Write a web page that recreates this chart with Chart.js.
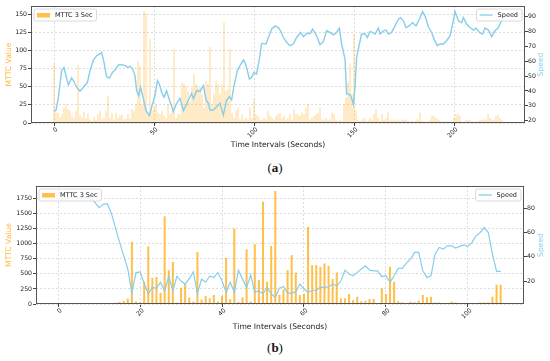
<!DOCTYPE html>
<html lang="en">
<head>
<meta charset="UTF-8">
<script src="https://cdn.jsdelivr.net/npm/chart.js@4.4.0/dist/chart.umd.min.js"></script>
<style>
    body{
        margin: 0;
        padding: 0;
        background: #fff;
        width: 550px;
        height: 361px;
        position: relative;
        overflow: hidden;
    }
    canvas{
        position: absolute;
        left: 0;
    }
    #chartA{ top: 0; }
    #chartB{ top: 180px; }
    .cap{
        position: absolute;
        left: 0;
        width: 550px;
        text-align: center;
        font-family: 'Liberation Serif', serif;
        font-size: 13px;
        line-height: 14px;
        color: #111;
    }
</style>
<title>MTTC and Speed</title>
</head>
<body>
<canvas id="chartA" width="550" height="154"></canvas>
<div class="cap" style="top:161px">(<b>a</b>)</div>
<canvas id="chartB" width="550" height="153"></canvas>
<div class="cap" style="top:341px">(<b>b</b>)</div>
<script>
// ---- data (a) ----
const mttcA = [
    82,15,14,8,12,21,26,19,17,10, 7,17,80,10,7,16,7,13,5,3,
    8,4,12,17,5,7,17,37,7,14, 5,14,7,10,12,5,6,12,7,19,
    17,26,85,78,26,155,152,12,116,17, 21,26,14,12,17,10,7,26,12,17,
    102,7,12,12,56,54,51,44,30,49, 68,54,51,49,40,21,58,54,105,26,
    40,58,54,40,54,139,44,47,102,14, 7,17,21,5,12,5,7,5,21,7,
    33,12,10,5,4,7,5,17,10,7, 5,10,12,14,7,10,5,7,12,5,
    19,12,12,10,14,12,21,26,5,7, 10,12,14,21,5,5,7,3,5,14,
    12,5,3,4,3,26,35,57,82,40, 123,17,5,3,5,7,3,3,7,5,
    12,19,7,3,12,5,7,16,3,5, 3,5,5,3,4,5,5,3,2,3,
    2,5,5,14,3,2,2,2,5,10, 10,7,5,3,2,2,2,2,2,2,
    7,12,12,10,2,2,4,5,4,2, 2,2,2,4,4,5,5,12,7,4,
    5,10,11,7,4
];
const secondsA = Array.from({length: mttcA.length}, (_, i) => i);
const speedTimeA = [
    0,1,2.2,3,3.8,5,6,7.2,8.8,9.7,11.3,13,14.7,16.7,18,19.7,21.3,23,23.8,25,
    26.3,27.7,29.3,31,32.2,33.8,35.5,36.7,38,39.3,40.5,41.3,42.3,43.3,44.7,46,47.7,48.8,50.5,51.7,
    52.7,53.8,55,56.3,57.7,59.7,61.3,63,64.7,66.3,68.8,69.7,71.3,73,74.7,76,77.2,78,79.7,81.3,
    83,84.7,86.3,87.7,88.8,90,91.7,93,94.7,95.5,96.7,97.7,98.8,100,101.3,102.7,103.8,106,107.2,108.8,
    110.5,112.2,113.3,114.7,116.3,118,119.7,121.3,123.3,124.7,126.3,128,129.3,131.3,133,134.7,136.3,138,139.7,141.3,
    142.7,143.8,145.5,146.3,147.2,148.3,149.7,150.5,151.3,152.7,153.8,155.5,156.7,158,159.3,160.5,162.2,163,164.7,166,
    167.2,168.8,170.5,172.2,173.3,174.7,176,177.7,179.3,181,182.7,184.3,185.5,187.2,188.8,190,191.7,193,194.7,196.3,
    198,199.3,200.5,202.2,203.8,204.7,206.3,208,209.7,211,212.7,214.3,215.5,217.2,218.8,220.5,222.2,223.8
];
const speedA = [
    26.3,27,35.7,44.7,53.6,55.9,50.3,44,48.7,47,42.5,39.8,42.5,45.8,53.6,60.8,63.7,64.9,66,59.3,
    49.6,48.7,52.6,54.8,57.5,57.7,57,55.9,56.6,54.8,50.3,40.2,36.9,42.5,34.6,26.7,23.4,29,36.9,47,
    44.7,39.1,35.7,40.2,33.9,26.1,31.7,35,26.7,31.2,38.4,34.6,40.2,39.7,43.6,33.9,31.7,27.2,27.2,29.4,
    31.7,23.8,33.9,36.1,33.9,43.6,53.6,57,60.8,59.3,53.6,48,49.1,52.4,51.3,61.5,72,71.6,76,81.6,
    83.8,82.7,80.5,76,72.7,70.5,71.6,76,79.4,76.5,78.7,78.7,81.6,77.1,71.1,73.3,80.5,79.4,77.8,79.4,
    82.3,71.6,61.5,38,38,36.9,31.3,42.5,62.6,71.6,78.3,78.3,76,80,79.4,78.3,82.3,78.3,80.5,81,
    78.3,79.4,83.8,88.3,89.4,87.2,82.7,83.8,86,83.8,88.3,93.5,90.6,83.2,79.4,74.9,70.5,71.6,71.6,73.8,
    77.1,85,93.5,87.2,86,89.4,85,82.7,81,82.3,79.4,78.3,82.3,81,76.5,80.5,82.7,87.6
];
const xTicksA = [0, 50, 100, 150, 200];
const mttcTicksA = [0, 25, 50, 75, 100, 125, 150];
const speedTicksA = [20, 30, 40, 50, 60, 70, 80, 90];

// ---- data (b) ----
const mttcB = [
    0,0,0,0,0,0,0,0,0,0, 8,0,0,5,22,33,50,90,1035,40,
    30,372,958,435,448,185,1455,563,700,22, 268,336,105,39,860,75,135,96,150,42,
    135,765,80,1253,33,110,908,39,994,397, 1698,372,963,1877,150,240,563,811,524,150,
    170,1280,646,646,618,673,635,414,524,94, 94,165,66,121,44,55,83,83,5,260,
    165,618,370,44,28,5,39,28,55,149, 110,121,28,28,17,11,39,28,17,8,
    3,3,3,28,28,28,121,320,320
];
const secondsB = Array.from({length: mttcB.length}, (_, i) => i);
const speedB = [
    95,91,88,89,89.6,89,89,89,88.5,85, 80.8,83.5,84,76,64,52,41,30,10,27,
    27.5,18,9.5,14.8,14,19,12,24,12,24, 20,17.5,22,27.5,9.5,21.6,19,24,23,27,
    20,10.7,19,10.7,29,21.6,14.8,25,10.7,12, 9.3,14.8,9.3,6.5,14,15.5,10,10,11,17.5,
    13.4,10.7,12,12.6,14.8,14.8,15.3,17.5,16,20, 29,25.8,24.4,27.2,30,32.6,29,28.5,28.5,23.6,
    24.4,19,24.4,30.5,30.5,34.9,38.2,43.7,43.7,28.5, 23,24.4,42.3,47.8,46.4,49.2,49.2,47.3,48.7,50,
    48.7,52,57.4,60.2,64.3,60.2,42.3,28,28
];
const xTicksB = [0, 20, 40, 60, 80, 100];
const mttcTicksB = [0, 250, 500, 750, 1000, 1250, 1500, 1750];
const speedTicksB = [20, 40, 60, 80];

const BAR = 'rgba(255,165,0,0.7)';
const LINE = '#87CEEB';
const TXT = '#222';
const FONT = "'DejaVu Sans', sans-serif";

function setTicks(list){
    return function(scale){ scale.ticks = list.map(v => ({value: v})); };
}
const plain = v => String(v);

function roundRect(ctx, x, y, w, h, r){
    ctx.beginPath();
    ctx.moveTo(x + r, y);
    ctx.lineTo(x + w - r, y);
    ctx.quadraticCurveTo(x + w, y, x + w, y + r);
    ctx.lineTo(x + w, y + h - r);
    ctx.quadraticCurveTo(x + w, y + h, x + w - r, y + h);
    ctx.lineTo(x + r, y + h);
    ctx.quadraticCurveTo(x, y + h, x, y + h - r);
    ctx.lineTo(x, y + r);
    ctx.quadraticCurveTo(x, y, x + r, y);
    ctx.closePath();
}

// frame, two legends and the right axis title (matplotlib look)
const decor = {
    id: 'decor',
    afterDraw(chart, args, opts){
        const ctx = chart.ctx;
        const a = chart.chartArea;
        ctx.save();
        ctx.strokeStyle = '#555';
        ctx.lineWidth = 1;
        ctx.strokeRect(Math.round(a.left) + 0.5, Math.round(a.top) + 0.5,
            Math.round(a.right - a.left) - 1, Math.round(a.bottom - a.top) - 1);

        ctx.font = '6.5px ' + FONT;
        ctx.textBaseline = 'middle';
        const h = 12;
        // left legend: bars
        let tw = ctx.measureText(opts.barLabel).width;
        let w = 3 + 13 + 5 + tw + 4;
        let x = a.left + 3, y = a.top + 3;
        roundRect(ctx, x, y, w, h, 2);
        ctx.fillStyle = 'rgba(255,255,255,0.8)';
        ctx.fill();
        ctx.strokeStyle = '#d0d0d0';
        ctx.lineWidth = 0.8;
        ctx.stroke();
        ctx.fillStyle = BAR;
        ctx.fillRect(x + 3, y + 4, 13, 4.5);
        ctx.fillStyle = TXT;
        ctx.textAlign = 'left';
        ctx.fillText(opts.barLabel, x + 21, y + h / 2 + 0.5);
        // right legend: line
        tw = ctx.measureText(opts.lineLabel).width;
        w = 3 + 13 + 5 + tw + 4;
        x = a.right - 3 - w;
        roundRect(ctx, x, y, w, h, 2);
        ctx.fillStyle = 'rgba(255,255,255,0.8)';
        ctx.fill();
        ctx.strokeStyle = '#d0d0d0';
        ctx.stroke();
        ctx.strokeStyle = LINE;
        ctx.lineWidth = 1.3;
        ctx.beginPath();
        ctx.moveTo(x + 3, y + h / 2);
        ctx.lineTo(x + 16, y + h / 2);
        ctx.stroke();
        ctx.fillStyle = TXT;
        ctx.fillText(opts.lineLabel, x + 21, y + h / 2 + 0.5);

        // right axis title, reading bottom to top
        ctx.translate(opts.titleX, (a.top + a.bottom) / 2);
        ctx.rotate(-Math.PI / 2);
        ctx.font = '7.6px ' + FONT;
        ctx.fillStyle = LINE;
        ctx.textAlign = 'center';
        ctx.fillText(opts.lineLabel, 0, 0);
        ctx.restore();
    }
};

function makeChart(id, cfg){
    return new Chart(document.getElementById(id), {
        type: 'bar',
        data: {
            datasets: [{
                type: 'line',
                label: 'Speed',
                data: cfg.lineX.map((t, i) => ({x: t, y: cfg.lineY[i]})),
                borderColor: LINE,
                borderWidth: cfg.lineWidth,
                pointRadius: 0,
                tension: 0,
                yAxisID: 'y2',
                order: 0
            }, {
                label: 'MTTC 3 Sec',
                data: cfg.barX.map((t, i) => ({x: t, y: cfg.barY[i]})),
                backgroundColor: cfg.barColor,
                categoryPercentage: 1,
                barPercentage: cfg.barPct,
                yAxisID: 'y',
                order: 1
            }]
        },
        options: {
            responsive: false,
            animation: false,
            layout: { padding: { top: 6, left: 0, right: 0, bottom: 0 } },
            plugins: {
                legend: { display: false },
                tooltip: { enabled: false },
                decor: { barLabel: 'MTTC 3 Sec', lineLabel: 'Speed', titleX: 541.5 }
            },
            scales: {
                x: {
                    type: 'linear',
                    offset: false,
                    min: cfg.xMin,
                    max: cfg.xMax,
                    afterBuildTicks: setTicks(cfg.xTicks),
                    afterFit(s){ s.height = cfg.xHeight; },
                    ticks: {
                        minRotation: 45, maxRotation: 45,
                        labelOffset: 3, padding: 0,
                        color: TXT,
                        callback: plain,
                        font: { family: FONT, size: 6.2 }
                    },
                    grid: { offset: false, color: '#dcdcdc', tickLength: 3, tickColor: '#444' },
                    border: { display: false, dash: [2, 2] },
                    title: {
                        display: true,
                        text: 'Time Intervals (Seconds)',
                        color: TXT,
                        font: { family: FONT, size: 7.6 },
                        padding: { top: 0, bottom: cfg.xTitlePad }
                    }
                },
                y: {
                    position: 'left',
                    min: 0,
                    max: cfg.yMax,
                    afterBuildTicks: setTicks(cfg.yTicks),
                    afterFit(s){ s.width = cfg.yWidth; },
                    ticks: { padding: 1, color: TXT, callback: plain, font: { family: FONT, size: 6.2 } },
                    grid: { color: '#dcdcdc', tickLength: 3, tickColor: '#444' },
                    border: { display: false, dash: [2, 2] },
                    title: {
                        display: true,
                        text: 'MTTC Value',
                        color: '#FFB733',
                        font: { family: FONT, size: 7.6 },
                        padding: { top: 4, bottom: 0 }
                    }
                },
                y2: {
                    position: 'right',
                    min: cfg.sMin,
                    max: cfg.sMax,
                    afterBuildTicks: setTicks(cfg.sTicks),
                    afterFit(s){ s.width = cfg.y2Width; },
                    ticks: { padding: 0, color: TXT, callback: plain, font: { family: FONT, size: 6.2 } },
                    grid: { drawOnChartArea: false, tickLength: 3, tickColor: '#444' },
                    border: { display: false }
                }
            }
        },
        plugins: [decor]
    });
}

makeChart('chartA', {
    barX: secondsA, barY: mttcA, barPct: 0.4, barColor: 'rgba(255,165,0,0.55)',
    lineX: speedTimeA, lineY: speedA, lineWidth: 1.4,
    xMin: -11.5, xMax: 235.5, xTicks: xTicksA,
    yMax: 161.5, yTicks: mttcTicksA,
    sMin: 18.4, sMax: 97.2, sTicks: speedTicksA,
    xHeight: 31, xTitlePad: 4.4, yWidth: 31, y2Width: 25
});

makeChart('chartB', {
    barX: secondsB, barY: mttcB, barPct: 0.5, barColor: BAR,
    lineX: secondsB, lineY: speedB, lineWidth: 1.2,
    xMin: -5.4, xMax: 113.7, xTicks: xTicksB,
    yMax: 1960, yTicks: mttcTicksB,
    sMin: 1, sMax: 98.7, sTicks: speedTicksB,
    xHeight: 29, xTitlePad: 1.4, yWidth: 36, y2Width: 26
});
</script>
</body>
</html>
